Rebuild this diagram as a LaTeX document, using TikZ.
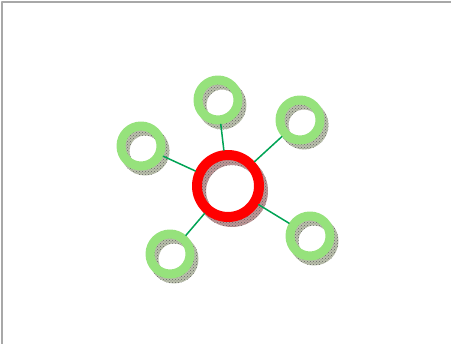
\documentclass[tikz,border=0pt]{standalone}
\usetikzlibrary{patterns}
\definecolor{ringgreen}{RGB}{150,226,124}
\definecolor{linkgreen}{RGB}{0,163,84}
\definecolor{framegray}{RGB}{168,168,168}
\definecolor{hubshade}{RGB}{190,150,150}
\definecolor{leafshade}{RGB}{186,192,172}
\begin{document}
\begin{tikzpicture}[x=1pt, y=-1pt, line join=round, line cap=round,
    hub/.style={circle, draw=red, line width=10pt, minimum size=62pt, inner sep=0pt},
    leaf/.style={circle, draw=ringgreen, line width=9pt, minimum size=40pt, inner sep=0pt},
    link/.style={linkgreen, line width=1.5pt},
    shade/.style={even odd rule, fill=#1},
    hatch/.style={even odd rule, pattern=crosshatch dots, pattern color=black!60}]
	\useasboundingbox (0,0) rectangle (451,344);
	\draw[framegray, line width=2pt, line cap=butt] (2,344) -- (2,2) -- (451,2);
	
	% shadows
	\fill[shade=hubshade] (232,191) circle (36pt) circle (26pt);
	\fill[hatch] (232,191) circle (36pt) circle (26pt);
	\foreach \x/\y in {218/100, 141/146, 300/120, 310/236, 170/254} {
		\fill[shade=leafshade] (\x+4,\y+5) circle (24.5pt) circle (15.5pt);
		\fill[hatch] (\x+4,\y+5) circle (24.5pt) circle (15.5pt);
	}
	
	\node[hub] (hub) at (228,186) {};
	\foreach \name/\x/\y in {north/218/100, west/141/146, northeast/300/120, southeast/310/236, southwest/170/254} {
		\node[leaf] (\name) at (\x,\y) {};
		\draw[link] (hub) -- (\name);
	}
\end{tikzpicture}
\end{document}
